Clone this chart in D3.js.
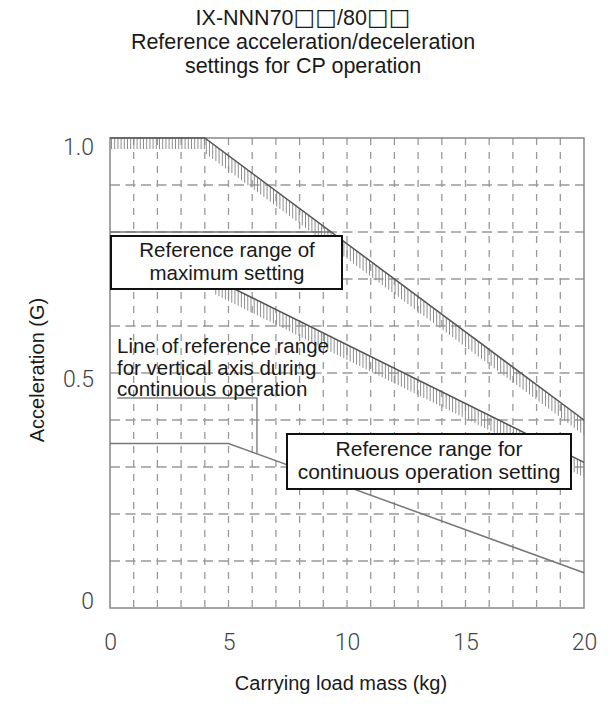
<!DOCTYPE html>
<html>
<head>
<meta charset="utf-8">
<script src="https://cdn.jsdelivr.net/npm/d3@7"></script>
<style>
  html, body { margin: 0; padding: 0; background: #fff; }
  svg { display: block; }
  .title { font-family: "Liberation Sans", Arial, sans-serif; font-size: 21.5px; fill: #1a1a1a; }
  .title .sq { font-family: "DejaVu Sans", sans-serif; font-size: 23px; }
  .note { font-family: "Liberation Sans", Arial, sans-serif; font-size: 20.5px; fill: #1a1a1a; }
  .tick-label { font-family: Roboto, sans-serif; font-weight: 300; font-size: 23px; fill: #444; }
  .axis-title { font-family: "Liberation Sans", Arial, sans-serif; font-size: 20px; fill: #1a1a1a; }
</style>
</head>
<body>
<div id="chart"></div>
<script>
// title lines (each split into plain text / square-box parts)
const titleLines = [
  [["IX-NNN70", false], ["\u25A1\u25A1", true], ["/80", false], ["\u25A1\u25A1", true]],
  [["Reference acceleration/deceleration", false]],
  [["settings for CP operation", false]],
];

// axis ticks
const xTicks = [0, 5, 10, 15, 20];
const yTicks = [0, 0.5, 1.0];
const xGrid = d3.range(1, 20);            // 1 kg steps
const yGrid = [0.1, 0.2, 0.3, 0.4, 0.5, 0.6, 0.7, 0.8, 0.9];

// reference range of maximum setting (upper hatched line)
const maxKg = [0, 4, 20];
const maxG = [1.0, 1.0, 0.4];

// lower hatched line
const lowKg = [0, 4.4, 20];
const lowG = [0.7, 0.7, 0.31];

// flat line at 0.8 G up to the upper line
const topKg = [0, 9.33];
const topG = [0.8, 0.8];

// reference range for continuous operation setting
const contKg = [0, 5, 20];
const contG = [0.35, 0.35, 0.075];

// leader line of vertical-axis note
const leadKg = [0.3, 6.2, 6.2];
const leadG = [0.447, 0.447, 0.327];

const width = 610, height = 709;
const margin = { top: 138, right: 26, bottom: 101, left: 110 };

const svg = d3.select("#chart").append("svg")
  .attr("width", width)
  .attr("height", height);

svg.append("rect").attr("width", width).attr("height", height).attr("fill", "#fff");

const x = d3.scaleLinear().domain([0, 20]).range([margin.left, width - margin.right]);
const y = d3.scaleLinear().domain([0, 1]).range([height - margin.bottom, margin.top]);

// title
const title = svg.append("g").selectAll("text")
  .data(titleLines)
  .enter()
  .append("text")
  .attr("class", "title")
  .attr("x", 303)
  .attr("y", (d, i) => 25 + i * 24)
  .attr("text-anchor", "middle");

title.selectAll("tspan")
  .data(d => d)
  .enter()
  .append("tspan")
  .attr("class", d => d[1] ? "sq" : null)
  .text(d => d[0]);

// grid
const grid = svg.append("g").attr("stroke", "#999").attr("stroke-width", 1.3).attr("fill", "none");

grid.selectAll(".vg")
  .data(xGrid)
  .enter()
  .append("line")
  .attr("x1", d => x(d)).attr("x2", d => x(d))
  .attr("y1", y(1)).attr("y2", y(0))
  .attr("stroke-dasharray", "7,7");

grid.selectAll(".hg")
  .data(yGrid)
  .enter()
  .append("line")
  .attr("x1", x(0)).attr("x2", x(20))
  .attr("y1", d => y(d)).attr("y2", d => y(d))
  .attr("stroke-dasharray", "10,5.5");

// frame
svg.append("rect")
  .attr("x", x(0)).attr("y", y(1))
  .attr("width", x(20) - x(0)).attr("height", y(0) - y(1))
  .attr("fill", "none").attr("stroke", "#888").attr("stroke-width", 1.5);

const line = d3.line().x(d => x(d[0])).y(d => y(d[1]));
const zip = (a, b) => a.map((v, i) => [v, b[i]]);

// hatch marks hanging under a polyline
function hatch(kg, g, len) {
  const pts = zip(kg, g);
  const marks = [];
  for (let i = 0; i < pts.length - 1; i++) {
    const [k0, g0] = pts[i], [k1, g1] = pts[i + 1];
    const px0 = x(k0), px1 = x(k1);
    const flat = g0 === g1;
    for (let px = px0 + 1.5; px < px1; px += 3.2) {
      const t = (px - px0) / (px1 - px0);
      const py = y(g0 + (g1 - g0) * t);
      marks.push({ px, py, len: flat ? len - 4 : len });
    }
  }
  svg.append("g")
    .selectAll("line")
    .data(marks)
    .enter()
    .append("line")
    .attr("x1", d => d.px).attr("x2", d => d.px)
    .attr("y1", d => d.py).attr("y2", d => d.py + d.len)
    .attr("stroke", "#8e8e8e")
    .attr("stroke-width", 1);
}

hatch(maxKg, maxG, 15);
hatch(lowKg, lowG, 15);

svg.append("path").datum(zip(topKg, topG)).attr("d", line)
  .attr("fill", "none").attr("stroke", "#777").attr("stroke-width", 1.5);

svg.append("path").datum(zip(maxKg, maxG)).attr("d", line)
  .attr("fill", "none").attr("stroke", "#555").attr("stroke-width", 1.5);

svg.append("path").datum(zip(lowKg, lowG)).attr("d", line)
  .attr("fill", "none").attr("stroke", "#555").attr("stroke-width", 1.5);

svg.append("path").datum(zip(contKg, contG)).attr("d", line)
  .attr("fill", "none").attr("stroke", "#777").attr("stroke-width", 1.5);

svg.append("path").datum(zip(leadKg, leadG)).attr("d", line)
  .attr("fill", "none").attr("stroke", "#888").attr("stroke-width", 1.5);

// boxed notes
const boxes = [
  { x: 111, y: 236, w: 231, h: 53, cx: 227, size: 20.5, lines: ["Reference range of", "maximum setting"], base: 257 },
  { x: 287, y: 434, w: 284, h: 55, cx: 429, size: 21, lines: ["Reference range for", "continuous operation setting"], base: 456 },
];

boxes.forEach(b => {
  const g = svg.append("g");
  g.append("rect")
    .attr("x", b.x).attr("y", b.y).attr("width", b.w).attr("height", b.h)
    .attr("fill", "#fff").attr("stroke", "#111").attr("stroke-width", 2);
  g.selectAll("text")
    .data(b.lines)
    .enter()
    .append("text")
    .attr("class", "note")
    .attr("x", b.cx)
    .attr("y", (d, i) => b.base + i * 23)
    .attr("text-anchor", "middle")
    .style("font-size", `${b.size}px`)
    .text(d => d);
});

// free note
svg.append("g").selectAll("text")
  .data(["Line of reference range", "for vertical axis during", "continuous operation"])
  .enter()
  .append("text")
  .attr("class", "note")
  .attr("x", 117)
  .attr("y", (d, i) => 353 + i * 21.5)
  .text(d => d);

// axes (labels only)
const xAxis = svg.append("g")
  .attr("transform", `translate(0,${y(0)})`)
  .call(d3.axisBottom(x).tickValues(xTicks).tickSize(0).tickPadding(26).tickFormat(d3.format("d")));
xAxis.select(".domain").remove();
xAxis.selectAll("text").attr("class", "tick-label").attr("fill", null);

const yLabelShift = { 0: -8, 0.5: 5, 1: 8 };
const yAxis = svg.append("g")
  .attr("transform", `translate(${x(0)},0)`)
  .call(d3.axisLeft(y).tickValues(yTicks).tickSize(0).tickPadding(16)
    .tickFormat(d => d === 0 ? "0" : d3.format(".1f")(d)));
yAxis.select(".domain").remove();
yAxis.selectAll("text").attr("class", "tick-label").attr("fill", null)
  .attr("dy", "0.35em")
  .attr("y", d => yLabelShift[d]);

svg.append("text")
  .attr("class", "axis-title")
  .attr("x", (x(0) + x(20)) / 2 - 6)
  .attr("y", 690)
  .attr("text-anchor", "middle")
  .text("Carrying load mass (kg)");

svg.append("text")
  .attr("class", "axis-title")
  .attr("transform", `translate(44,${(y(0) + y(1)) / 2 - 3}) rotate(-90)`)
  .attr("text-anchor", "middle")
  .text("Acceleration (G)");
</script>
</body>
</html>
